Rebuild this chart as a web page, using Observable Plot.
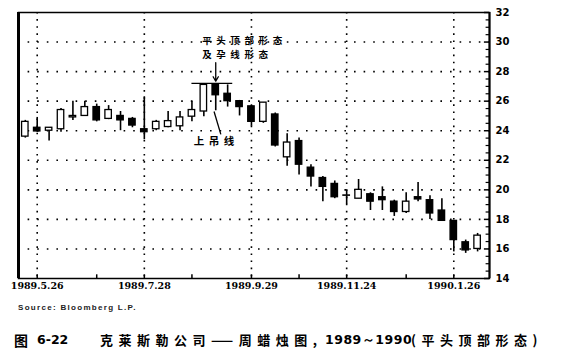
<!DOCTYPE html>
<html><head><meta charset="utf-8">
<script src="https://cdn.jsdelivr.net/npm/d3@7"></script>
<script src="https://cdn.jsdelivr.net/npm/@observablehq/plot@0.6"></script>
<style>
body{margin:0;background:#fff;width:580px;height:359px;position:relative;overflow:hidden;}
#chart{position:absolute;left:0;top:0;}
.src{position:absolute;left:18px;top:303px;font:bold 8px "Liberation Sans",sans-serif;letter-spacing:1.3px;color:#222;white-space:nowrap;}
.cap{position:absolute;top:332px;font-family:"Noto Sans CJK SC",sans-serif;font-weight:700;font-size:13px;line-height:16px;color:#000;white-space:nowrap;}
</style></head><body>
<div id="chart"></div>
<div class="src">Source: Bloomberg L.P.</div>
<div class="cap" style="left:14px;font-size:14px">图</div>
<div class="cap" style="left:37px;font-family:'DejaVu Sans';font-size:12.5px">6-22</div>
<div class="cap" style="left:100px;letter-spacing:5.5px">克莱斯勒公司——周蜡烛图,</div>
<div class="cap" style="left:325px;font-family:'DejaVu Sans';font-size:12.5px;letter-spacing:0.5px">1989～1990</div>
<div class="cap" style="left:411px;letter-spacing:5.5px">(平头顶部形态)</div>
<script>
// ---- data ----
const weeks = ["1989-05-19","1989-05-26","1989-06-02","1989-06-09","1989-06-16","1989-06-23","1989-06-30","1989-07-07","1989-07-14","1989-07-21","1989-07-28","1989-08-04","1989-08-11","1989-08-18","1989-08-25","1989-09-01","1989-09-08","1989-09-15","1989-09-22","1989-09-29","1989-10-06","1989-10-13","1989-10-20","1989-10-27","1989-11-03","1989-11-10","1989-11-17","1989-11-24","1989-12-01","1989-12-08","1989-12-15","1989-12-22","1989-12-29","1990-01-05","1990-01-12","1990-01-19","1990-01-26","1990-02-02","1990-02-09"];
const opens  = [23.6,24.2,24.0,24.1,24.9,25.0,25.6,24.8,25.0,24.8,24.1,24.1,24.25,24.3,24.95,25.3,27.1,26.5,26.0,25.65,24.6,25.1,22.2,23.3,21.5,20.8,20.4,19.6,19.4,19.7,19.5,19.2,18.5,19.5,19.3,18.6,17.9,16.45,16.0];
const closes = [24.6,23.95,24.2,25.4,25.0,25.6,24.7,25.4,24.7,24.35,23.9,24.6,24.65,24.9,25.4,27.1,26.4,26.0,25.6,24.6,25.9,23.0,23.2,21.7,20.9,20.2,19.5,19.62,20.0,19.2,19.3,18.5,19.2,19.35,18.4,17.9,16.6,15.9,16.9];
const highs  = [24.7,24.9,24.2,25.5,26.0,26.0,25.8,25.7,25.3,24.9,26.3,24.7,25.3,25.3,26.0,27.2,27.2,27.1,26.05,25.7,25.9,25.2,23.8,23.5,21.7,20.9,20.6,20.0,20.7,19.8,20.2,19.3,19.8,20.5,19.6,19.4,17.9,16.6,17.05];
const lows   = [23.5,23.9,23.3,23.9,24.7,25.0,24.6,24.75,24.0,24.2,23.4,24.0,24.2,24.0,24.6,24.95,25.35,25.6,25.0,24.3,24.5,22.9,21.6,21.0,20.2,19.2,19.4,19.0,19.4,18.6,18.6,18.2,18.4,19.2,18.0,17.9,15.8,15.7,15.8];
const xRange = ["1989-05-15","1990-02-16"];
const labelDates = ["1989-05-26","1989-07-28","1989-09-29","1989-11-24","1990-01-26"];
const dateLabels = ["1989.5.26","1989.7.28","1989.9.29","1989.11.24","1990.1.26"];
const minorDates = ["1989-06-30","1989-08-25","1989-10-27","1989-12-29"];
const yTicks = [14,16,18,20,22,24,26,28,30,32];
const gridY = [16,18,20,22,24,26,28,30];
const minorY = [14.5,15,15.5,16.5,17,17.5,18.5,19,19.5,20.5,21,21.5,22.5,23,23.5,24.5,25,25.5,26.5,27,27.5,28.5,29,29.5,30.5,31,31.5];
const annoTitle = {text:"平头顶部形态\n及孕线形态", x:"1989-08-31", y:29.7};
const annoHang = {text:"上吊线", x:"1989-08-26", y:23.25};
const flatTop = {x1:"1989-08-25", x2:"1989-09-18", y:27.2};
const arrowTop = {x:"1989-09-08", y1:28.6, y2:27.35};
const hangLink = {x1:"1989-09-11", y1:23.75, x2:"1989-09-07", y2:25.3};

// ---- build ----
const P = d3.utcParse("%Y-%m-%d");
const candles = weeks.map((w,i)=>({date:P(w), open:opens[i], close:closes[i], high:highs[i], low:lows[i]}));
const xs = xRange.map(P);
const DAY = 24*3600*1000;
const halfBody = 1.9*DAY;

const chart = Plot.plot({
  width:580, height:296,
  marginLeft:18, marginRight:91, marginTop:12, marginBottom:18,
  style:{background:"#fff", color:"#000", fontFamily:"DejaVu Sans", fontSize:"10px", fontWeight:"bold"},
  x:{type:"utc", domain:xs},
  y:{domain:[14,32]},
  marks:[
    Plot.ruleY(gridY, {stroke:"#000", strokeWidth:1.6, strokeDasharray:"1.6,8"}),
    Plot.ruleX(labelDates.map(P), {stroke:"#000", strokeWidth:1.6, strokeDasharray:"1.6,5.5"}),
    Plot.frame({stroke:"#000", strokeWidth:1.5}),
    Plot.ruleX([xs[0]], {stroke:"#000", strokeWidth:3}),
    Plot.ruleX([xs[1]], {stroke:"#000", strokeWidth:2}),
    Plot.ruleY(minorY, {x1:()=>new Date(+xs[1]-2*DAY), x2:()=>xs[1], stroke:"#000", strokeWidth:1.2}),
    Plot.ruleY(yTicks, {x1:()=>new Date(+xs[1]-3*DAY), x2:()=>xs[1], stroke:"#000", strokeWidth:1.5}),
    Plot.ruleX(labelDates.concat(minorDates).map(P), {y1:14, y2:14.25, stroke:"#000", strokeWidth:1.5}),
    Plot.ruleX(candles, {x:"date", y1:"low", y2:"high", stroke:"#000", strokeWidth:1.6}),
    Plot.rect(candles, {
      x1:d=>new Date(+d.date-halfBody), x2:d=>new Date(+d.date+halfBody),
      y1:"open", y2:"close",
      fill:d=>d.close>=d.open?"#fff":"#000", stroke:"#000", strokeWidth:1.3
    }),
    Plot.ruleY([flatTop], {x1:d=>P(d.x1), x2:d=>P(d.x2), y:"y", stroke:"#000", strokeWidth:1.3}),
    Plot.arrow([arrowTop], {x1:d=>P(d.x), x2:d=>P(d.x), y1:"y1", y2:"y2", stroke:"#000", strokeWidth:1.3, headLength:6}),
    Plot.link([hangLink], {x1:d=>P(d.x1), x2:d=>P(d.x2), y1:"y1", y2:"y2", stroke:"#000", strokeWidth:1.3}),
    Plot.text([annoTitle], {x:d=>P(d.x), y:"y", text:"text", textAnchor:"start", lineHeight:1.45, fontSize:9.5, fontFamily:"Noto Sans CJK SC", fontWeight:"bold", fill:"#000"}),
    Plot.text([annoHang], {x:d=>P(d.x), y:"y", text:"text", textAnchor:"start", fontSize:10.5, fontFamily:"Noto Sans CJK SC", fontWeight:"bold", fill:"#000"}),
    Plot.axisY({anchor:"right", ticks:yTicks, tickSize:0, tickPadding:6, label:null, fontSize:10, fontWeight:"bold", fontFamily:"DejaVu Sans"}),
    Plot.axisX({ticks:labelDates.map(P), tickFormat:(d,i)=>dateLabels[i], tickSize:0, tickPadding:4, label:null, fontSize:9.5, fontWeight:"bold", fontFamily:"DejaVu Serif"})
  ]
});
d3.select(chart).selectAll("text").filter(function(){return /[\u4e00-\u9fff]/.test(this.textContent);}).attr("letter-spacing","4.6px");
document.getElementById("chart").appendChild(chart);
</script>
</body></html>
